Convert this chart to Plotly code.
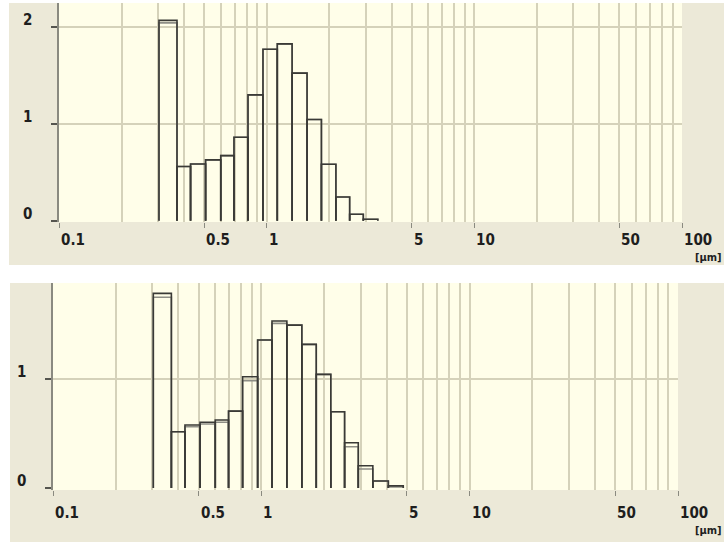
import math
import plotly.graph_objects as go

# size classes (bin edges, µm) shared by both panels
bin_edges = [0.303, 0.370, 0.430, 0.508, 0.601, 0.696, 0.813, 0.960, 1.125,
             1.326, 1.565, 1.835, 2.155, 2.510, 2.920, 3.430, 4.070, 4.800]

# upper panel (two overlaid measurements)
top_dark = [2.07, 0.56, 0.586, 0.628, 0.672, 0.862, 1.30, 1.772, 1.827,
            1.525, 1.045, 0.583, 0.245, 0.066, 0.015]
top_grey = [2.045, 0.56, 0.586, 0.628, 0.672, 0.862, 1.30, 1.772, 1.827,
            1.525, 1.045, 0.583, 0.245, 0.066, 0.015]

# lower panel
bot_dark = [1.786, 0.517, 0.578, 0.603, 0.624, 0.706, 1.021, 1.358, 1.532,
            1.495, 1.318, 1.043, 0.700, 0.416, 0.205, 0.064, 0.020]
bot_grey = [1.750, 0.517, 0.562, 0.587, 0.603, 0.706, 0.984, 1.358, 1.511,
            1.495, 1.318, 1.043, 0.700, 0.379, 0.174, 0.064, 0.010]

x_tick_vals = [0.1, 0.5, 1, 5, 10, 50, 100]
x_tick_text = ["0.1", "0.5", "1", "5", "10", "50", "100"]
top_y_ticks = [0, 1, 2]
bot_y_ticks = [0, 1]
unit_label = "[µm]"

W, H = 724, 542
BEIGE = "#ECE9D8"
PLOT_BG = "#FFFEE9"
GRID = "#D5D2BA"
FONT = "Liberation Sans Narrow, DejaVu Sans Condensed, Liberation Sans, sans-serif"

# log grid: 1..9 in every decade
grid_vals = [m * 10 ** e for e in (-1, 0, 1) for m in range(1, 10)] + [100]


def px_x(px):
    return px / W


def px_y(py):
    return 1 - py / H


def outline(edges, heights):
    xs, ys = [], []
    for i, h in enumerate(heights):
        xs += [edges[i], edges[i], edges[i + 1], edges[i + 1], None]
        ys += [0, h, h, 0, None]
    return xs, ys


def label_font(size):
    return dict(family=FONT, size=size, color="#1E1E1E", weight="bold")


fig = go.Figure()

panels = [
    # axis suffix, plot px box (l, r, t, b), y range, data, y ticks,
    # beige box, label split line (px below plot bottom)
    ("", (59, 682, 3, 222), [-0.014, 2.25], (top_grey, top_dark), top_y_ticks,
     (9, 724, 3, 265), 28),
    ("2", (53, 678, 283, 490), [-0.018, 1.881], (bot_grey, bot_dark), bot_y_ticks,
     (10, 724, 283, 542), 33),
]

shapes, annotations = [], []
for sfx, (l, r, t, b), yr, (grey, dark), yticks, (bl, br, bt, bb), split in panels:
    xa, ya = "x" + sfx, "y" + sfx
    shapes.append(dict(type="rect", xref="paper", yref="paper", layer="below",
                       x0=px_x(bl), x1=px_x(br), y0=px_y(bb), y1=px_y(bt),
                       fillcolor=BEIGE, line_width=0))
    shapes.append(dict(type="rect", xref="paper", yref="paper", layer="below",
                       x0=px_x(l), x1=px_x(r), y0=px_y(b), y1=px_y(t),
                       fillcolor=PLOT_BG, line_width=0))

    for vals, col in ((grey, "#8E8E86"), (dark, "#3A3A36")):
        xs, ys = outline(bin_edges, vals)
        fig.add_trace(go.Scatter(x=xs, y=ys, mode="lines", xaxis=xa, yaxis=ya,
                                 line=dict(color=col, width=1.6),
                                 showlegend=False, hoverinfo="skip"))

    axis_x = dict(type="log", range=[-1, 2], domain=[px_x(l), px_x(r)],
                  anchor=ya, tickvals=x_tick_vals, showticklabels=False,
                  ticks="outside", ticklen=5, tickwidth=1, tickcolor="#8A8A80",
                  showgrid=False, zeroline=False, showline=False,
                  minor=dict(tickvals=grid_vals, showgrid=True, gridcolor=GRID,
                             gridwidth=1.5, ticks=""))
    axis_y = dict(range=yr, domain=[px_y(b), px_y(t)], anchor=xa,
                  tickvals=yticks, showticklabels=False, ticks="outside",
                  ticklen=6, tickwidth=2, tickcolor="#55554F",
                  showgrid=False, zeroline=False, showline=True,
                  linecolor="#8A8A80", linewidth=2,
                  minor=dict(tickvals=yticks[1:], showgrid=True, gridcolor=GRID,
                             gridwidth=2, ticks=""))
    fig.update_layout({"xaxis" + sfx: axis_x, "yaxis" + sfx: axis_y})

    # x labels sit just right of their tick, like the original software
    for v, txt in zip(x_tick_vals, x_tick_text):
        annotations.append(dict(x=math.log10(v), xref=xa, y=px_y(b + split),
                                yref="paper", text=txt, showarrow=False,
                                xanchor="left", yanchor="bottom", xshift=1,
                                borderpad=0, font=label_font(15)))
    for v in yticks:
        annotations.append(dict(x=px_x(l - 26), xref="paper", y=v, yref=ya,
                                text=str(v), showarrow=False, xanchor="right",
                                yanchor="middle", yshift=7, borderpad=0,
                                font=label_font(15)))
    annotations.append(dict(x=px_x(723), xref="paper", y=px_y(b + split),
                            yref="paper", text=unit_label, showarrow=False,
                            xanchor="right", yanchor="top", borderpad=0,
                            font=label_font(11)))

fig.update_layout(width=W, height=H, margin=dict(l=0, r=0, t=0, b=0),
                  paper_bgcolor="white", plot_bgcolor="rgba(0,0,0,0)",
                  shapes=shapes, annotations=annotations, showlegend=False)

# drop the default page margin so the figure fills the window
fig.write_html("out.html", config={"displayModeBar": False},
               post_script="document.body.style.margin='0';")
